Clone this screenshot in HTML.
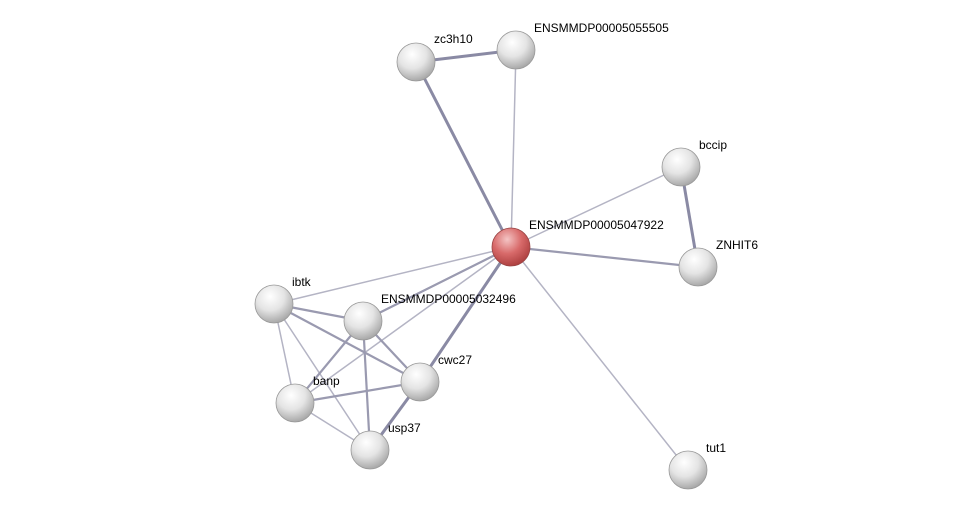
<!DOCTYPE html>
<html><head><meta charset="utf-8"><style>
html,body{margin:0;padding:0;background:#fff;}
svg{display:block;}
text{font-family:"Liberation Sans",sans-serif;font-size:12px;fill:#000;}
</style></head><body>
<svg width="976" height="515" viewBox="0 0 976 515" xmlns="http://www.w3.org/2000/svg">
<defs>
<radialGradient id="g" cx="0.4" cy="0.3" r="0.75">
<stop offset="0" stop-color="#ffffff"/><stop offset="0.5" stop-color="#e4e4e4"/><stop offset="1" stop-color="#a0a0a0"/>
</radialGradient>
<radialGradient id="r" cx="0.4" cy="0.3" r="0.75">
<stop offset="0" stop-color="#f4c4c4"/><stop offset="0.5" stop-color="#d86a6a"/><stop offset="1" stop-color="#a83a3a"/>
</radialGradient>
</defs>
<g stroke="#9a9ab0" stroke-linecap="round">
<line x1="416" y1="62" x2="516" y2="50" stroke-width="3" stroke="#8a8aa4"/>
<line x1="416" y1="62" x2="511" y2="247" stroke-width="3" stroke="#8a8aa4"/>
<line x1="516" y1="50" x2="511" y2="247" stroke-width="1.5" stroke="#b4b4c4"/>
<line x1="681" y1="167" x2="511" y2="247" stroke-width="1.5" stroke="#b4b4c4"/>
<line x1="681" y1="167" x2="698" y2="267" stroke-width="3" stroke="#8a8aa4"/>
<line x1="511" y1="247" x2="698" y2="267" stroke-width="2.2"/>
<line x1="511" y1="247" x2="688" y2="470" stroke-width="1.5" stroke="#b4b4c4"/>
<line x1="511" y1="247" x2="274" y2="304" stroke-width="1.5" stroke="#b4b4c4"/>
<line x1="511" y1="247" x2="363" y2="321" stroke-width="2.2"/>
<line x1="511" y1="247" x2="420" y2="382" stroke-width="3" stroke="#8a8aa4"/>
<line x1="511" y1="247" x2="295" y2="403" stroke-width="1.5" stroke="#b4b4c4"/>
<line x1="274" y1="304" x2="363" y2="321" stroke-width="2.2"/>
<line x1="274" y1="304" x2="420" y2="382" stroke-width="2.2"/>
<line x1="274" y1="304" x2="295" y2="403" stroke-width="1.5" stroke="#b4b4c4"/>
<line x1="274" y1="304" x2="370" y2="450" stroke-width="1.5" stroke="#b4b4c4"/>
<line x1="363" y1="321" x2="295" y2="403" stroke-width="2.2"/>
<line x1="363" y1="321" x2="420" y2="382" stroke-width="2.2"/>
<line x1="363" y1="321" x2="370" y2="450" stroke-width="2.2"/>
<line x1="295" y1="403" x2="420" y2="382" stroke-width="2.2"/>
<line x1="295" y1="403" x2="370" y2="450" stroke-width="1.5" stroke="#b4b4c4"/>
<line x1="420" y1="382" x2="370" y2="450" stroke-width="3" stroke="#8a8aa4"/>
</g>
<g stroke="#999" stroke-width="0.8">
<circle cx="416" cy="62" r="19" fill="url(#g)"/>
<circle cx="516" cy="50" r="19" fill="url(#g)"/>
<circle cx="681" cy="167" r="19" fill="url(#g)"/>
<circle cx="698" cy="267" r="19" fill="url(#g)"/>
<circle cx="274" cy="304" r="19" fill="url(#g)"/>
<circle cx="363" cy="321" r="19" fill="url(#g)"/>
<circle cx="420" cy="382" r="19" fill="url(#g)"/>
<circle cx="295" cy="403" r="19" fill="url(#g)"/>
<circle cx="370" cy="450" r="19" fill="url(#g)"/>
<circle cx="688" cy="470" r="19" fill="url(#g)"/>
<circle cx="511" cy="247" r="19" fill="url(#r)" stroke="#944"/>
</g>
<text x="434" y="43">zc3h10</text>
<text x="534" y="32">ENSMMDP00005055505</text>
<text x="699" y="149">bccip</text>
<text x="529" y="229">ENSMMDP00005047922</text>
<text x="716" y="249">ZNHIT6</text>
<text x="292" y="286">ibtk</text>
<text x="381" y="303">ENSMMDP00005032496</text>
<text x="438" y="364">cwc27</text>
<text x="313" y="385">banp</text>
<text x="388" y="432">usp37</text>
<text x="706" y="452">tut1</text>
</svg>
</body></html>
